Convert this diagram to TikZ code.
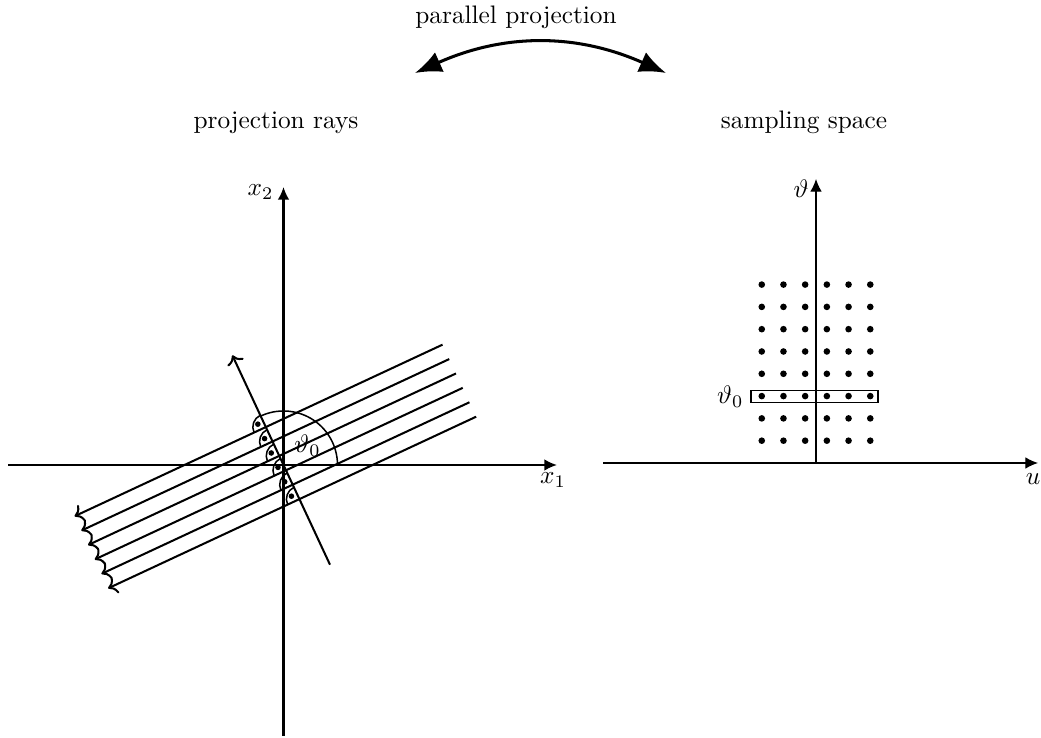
\documentclass[tikz,border=0pt]{standalone}
\usetikzlibrary{arrows.meta,calc}
\begin{document}
\begin{tikzpicture}[x=0.395pt,y=0.395pt,
  axis/.style={line width=0.8pt,-{Latex[length=5pt,width=4.6pt]}},
  thinaxis/.style={line width=0.5pt,-{Latex[length=5pt,width=4.6pt]}},
  ray/.style={line width=0.8pt,->},
  rmark/.style={line width=0.6pt},
  lbl/.style={inner sep=0pt}]
\useasboundingbox (0,0) rectangle (1041,738);
% titles
\node[anchor=base] (tpar) at (516,714) {parallel projection};
\node[anchor=base] (tray) at (276,609) {projection rays};
\node[anchor=base] (tsam) at (804,609) {sampling space};
\coordinate (cl) at (415,665);
\coordinate (cr) at (666,665);
\draw[line width=1.2pt,{Latex[length=10.5pt,width=8.5pt]}-{Latex[length=10.5pt,width=8.5pt]}] (cl) to[bend left=24] (cr);
% left axes
\coordinate (O) at (283.5,273);
\coordinate (x1s) at (8,273);
\coordinate (x1e) at (557,273);
\coordinate (x2s) at (283.5,2);
\coordinate (x2e) at (283.5,551);
\draw[axis] (x1s) -- (x1e);
\draw[axis] (x2s) -- (x2e);
\node[lbl] (lx1) at (553,258) {$x_1$};
\node[lbl,anchor=east] (lx2) at (274,546) {$x_2$};
% rays
\foreach \k in {0,...,5} {
  \pgfmathsetmacro{\s}{2.1+15.9*(2.5-\k)}
  \coordinate (Ra\k) at ({283.5+\s*cos(115)+195*cos(25)},{273+\s*sin(115)+195*sin(25)});
  \coordinate (Rb\k) at ({283.5+\s*cos(115)-211*cos(25)},{273+\s*sin(115)-211*sin(25)});
  \draw[ray] (Ra\k) -- (Rb\k);
  \coordinate (P\k) at ({283.5+\s*cos(115)},{273+\s*sin(115)});
  \draw[rmark] (P\k) ++(115:13) arc (115:205:13);
  \fill (P\k) ++(160:8.5) circle (2.8);
}
% normal direction
\coordinate (N1) at ({283.5-110*cos(115)},{273-110*sin(115)});
\coordinate (N2) at ({283.5+121*cos(115)},{273+121*sin(115)});
\draw[ray] (N1) -- (N2);
\draw[rmark] (337.5,273) arc (0:115:54);
\node[lbl] (th1) at (307.5,292) {$\vartheta_0$};
% right axes
\coordinate (us) at (603,275);
\coordinate (ue) at (1038,275);
\coordinate (vs) at (816,275);
\coordinate (ve) at (816,559);
\draw[thinaxis] (us) -- (ue);
\draw[thinaxis] (vs) -- (ve);
\node[lbl] (lu) at (1033,259) {$u$};
\node[lbl,anchor=east] (lv) at (809,549) {$\vartheta$};
\foreach \i in {0,...,5} {
  \foreach \k in {1,...,8} {
    \fill ({816+(\i-2.5)*21.7},{275+\k*22.3}) circle (3.3);
  }
}
\draw[rmark] (751,335.5) rectangle (878,347.5);
\node[lbl,anchor=east] (th2) at (744,341) {$\vartheta_0$};
\end{tikzpicture}
\end{document}
